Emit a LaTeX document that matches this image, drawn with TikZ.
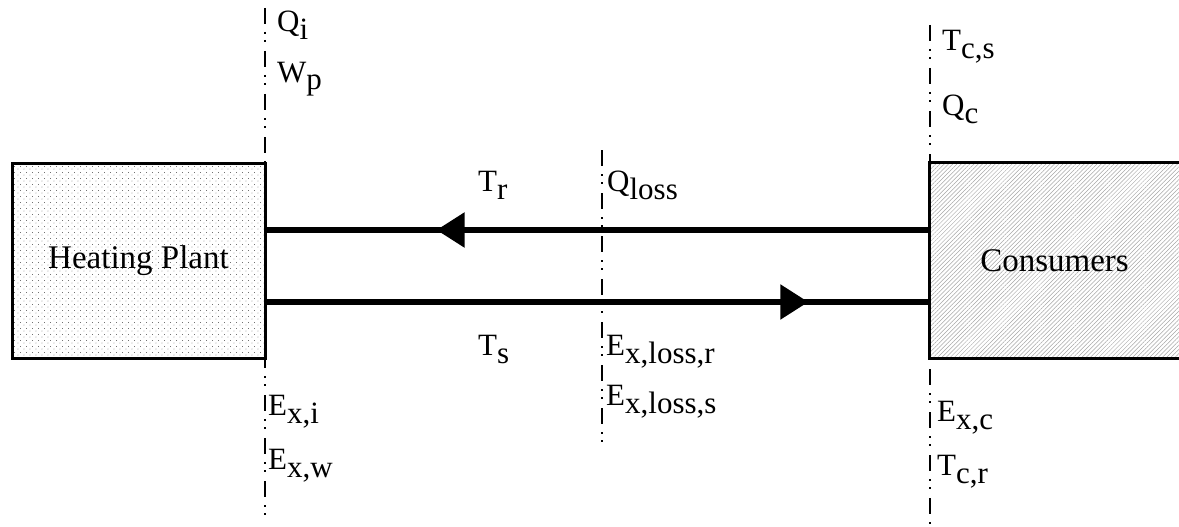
\documentclass[tikz,border=0pt]{standalone}
\usepackage{fontspec}
\setmainfont{Liberation Serif}
\usetikzlibrary{patterns,patterns.meta,decorations.markings,arrows.meta}
\tikzdeclarepattern{
  name=mydots,
  type=uncolored,
  bounding box={(0pt,0pt) and (5.5pt,5.5pt)},
  tile size={(5.5pt,5.5pt)},
  code={
    \pgfpathcircle{\pgfpoint{1pt}{1pt}}{0.45pt}
    \pgfpathcircle{\pgfpoint{3.75pt}{3.75pt}}{0.45pt}
    \pgfusepath{fill}
  }
}
\newcommand{\lab}[2]{\fontsize{31}{33}\selectfont #1\raisebox{-8pt}{\fontsize{31}{33}\selectfont #2}}
\tikzset{
  boxtext/.style={font=\fontsize{33}{36}\selectfont},
  plantbox/.style={draw, line width=3pt, pattern=mydots, pattern color=black!75, minimum width=253pt, minimum height=195pt, inner sep=0pt, boxtext},
  consbox/.style={draw=none, pattern={Lines[angle=45,distance=3pt,line width=0.5pt]}, pattern color=black!35, minimum width=249pt, minimum height=195pt, inner sep=0pt, boxtext},
  border/.style={line width=3pt},
  pipe/.style={line width=5.5pt},
  bound/.style={line width=1.8pt, dash pattern=on 16pt off 8pt on 2pt off 6pt on 2pt off 9pt},
  lbl/.style={anchor=base west, inner sep=0pt},
  arrowmark/.style={postaction={decorate}, decoration={markings, mark=at position #1 with {\arrow{Triangle[length=28pt,width=34pt]}}}},
}
\begin{document}
\begin{tikzpicture}[x=1pt,y=-1pt]
\useasboundingbox (0,0) rectangle (1179,527);
% boxes
\node[plantbox] (hp) at (138.5,260.5) {Heating Plant};
\node[consbox] (cons) at (1054.5,260.5) {Consumers};
\draw[border] (cons.north east) -- (cons.north west) -- (cons.south west) -- (cons.south east);
% boundary lines
\coordinate (l1) at (265,8);
\coordinate (l2) at (265,517);
\coordinate (m1) at (602,150);
\coordinate (m2) at (602,448);
\coordinate (r1) at (930,25);
\coordinate (r2) at (930,527);
\draw[bound] (l1) -- (l2);
\draw[bound] (m1) -- (m2);
\draw[bound] (r1) -- (r2);
% pipes
\coordinate (pr1) at (930,230);
\coordinate (pr2) at (265,230);
\coordinate (ps1) at (265,302);
\coordinate (ps2) at (930,302);
\draw[pipe, arrowmark=0.742] (pr1) -- (pr2);
\draw[pipe, arrowmark=0.817] (ps1) -- (ps2);
% labels
\node[lbl] (qi) at (277,32) {\lab{Q}{i}};
\node[lbl] (wp) at (277,82) {\lab{W}{p}};
\node[lbl] (tcs) at (942,51) {\lab{T}{c,s}};
\node[lbl] (qc) at (942,115) {\lab{Q}{c}};
\node[lbl] (tr) at (478,191) {\lab{T}{r}};
\node[lbl] (ql) at (607,191) {\lab{Q}{loss}};
\node[lbl] (ts) at (478,355) {\lab{T}{s}};
\node[lbl] (elr) at (606,355) {\lab{E}{x,loss,r}};
\node[lbl] (els) at (606,405) {\lab{E}{x,loss,s}};
\node[lbl] (exi) at (268,415) {\lab{E}{x,i}};
\node[lbl] (exw) at (268,469) {\lab{E}{x,w}};
\node[lbl] (exc) at (937,421) {\lab{E}{x,c}};
\node[lbl] (tcr) at (937,475) {\lab{T}{c,r}};
\end{tikzpicture}
\end{document}
